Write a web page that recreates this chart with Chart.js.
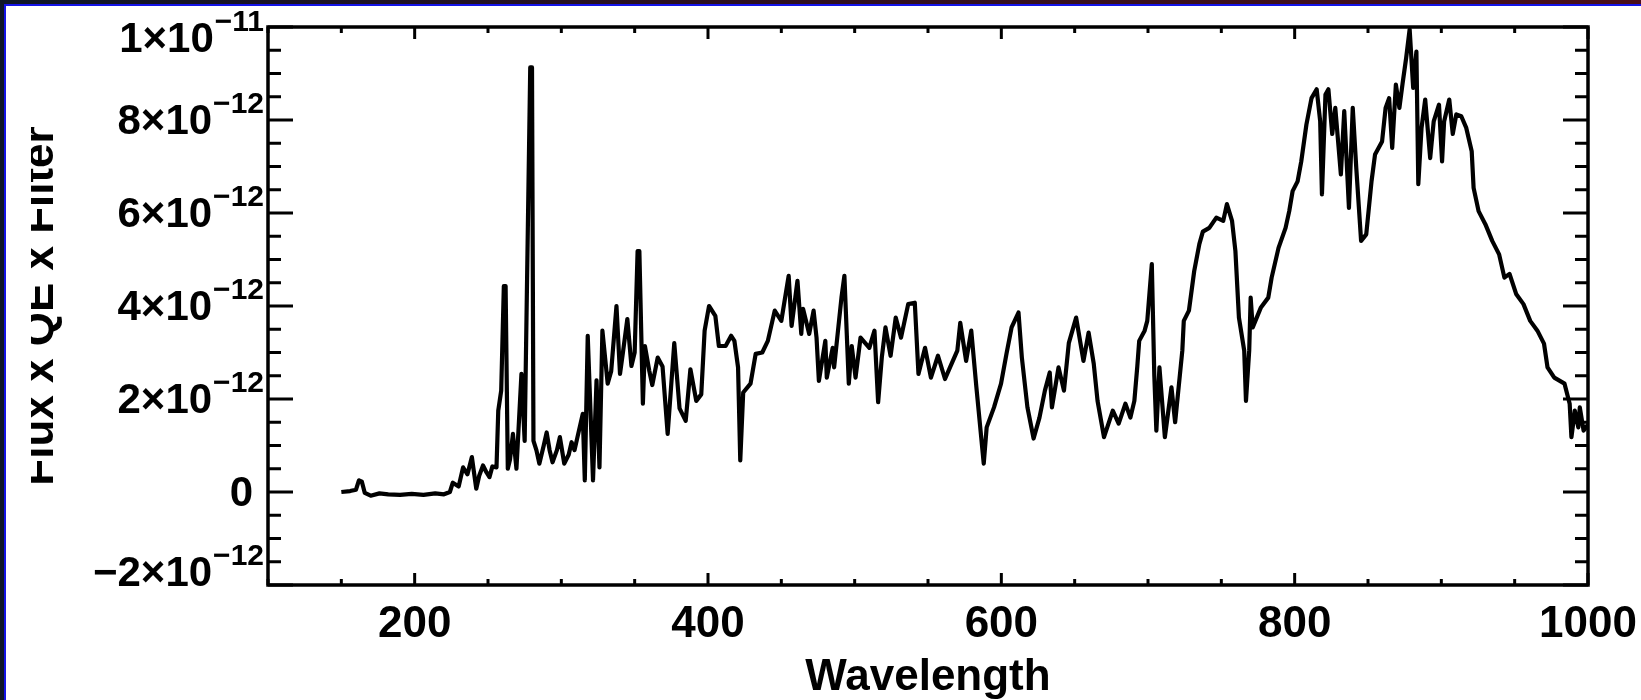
<!DOCTYPE html>
<html>
<head>
<meta charset="utf-8">
<script src="https://cdn.jsdelivr.net/npm/chart.js@4/dist/chart.umd.min.js"></script>
<style>
    html, body { margin: 0; padding: 0; background: #fff; }
    body { width: 1641px; height: 700px; position: relative; overflow: hidden; }
    .strip { position: absolute; z-index: 3; }
    #topDark { left: 0; top: 0; width: 1641px; height: 4px; background: linear-gradient(to right, #0e1727, #2a1020 40%, #4a0f1a); }
    #topBlue { left: 4px; top: 4px; width: 1637px; height: 2px; background: #1414e6; }
    #leftDark { left: 0; top: 0; width: 4px; height: 700px; background: #0e1727; }
    #leftBlue { left: 4px; top: 4px; width: 2px; height: 696px; background: #1414e6; }
    #chart { position: absolute; left: 0; top: 0; z-index: 1; }
    #crop { position: absolute; left: 6px; top: 6px; width: 25px; height: 694px; background: #fff; z-index: 2; }
</style>
</head>
<body>
<div class="strip" id="topDark"></div>
<div class="strip" id="topBlue"></div>
<div class="strip" id="leftDark"></div>
<div class="strip" id="leftBlue"></div>
<canvas id="chart" width="1641" height="700"></canvas>
<div id="crop"></div>
<script>
const wavelengths = [
    150, 156, 160, 162, 164, 166, 170, 176, 182, 190, 198, 206, 214, 220, 224, 226, 230, 233, 236, 239,
    242, 244, 246.6, 249, 251, 253, 255.8, 257, 259, 260.8, 262, 263.5, 265, 267, 269.4, 272.8, 275, 278.8, 280, 281,
    283, 285, 288, 290, 292, 294, 297, 299, 302, 305, 307, 309, 311, 314.6, 316, 318, 321.6, 324, 326, 328,
    331.6, 334, 337.6, 340, 342, 345, 347.8, 350, 352, 353.2, 355.6, 357, 360, 362, 365.7, 369, 372.5, 377, 380.6, 384.8,
    388, 392, 395.4, 397.7, 400.7, 405, 407.4, 412, 415.8, 418, 420.5, 422, 424, 429, 432.5, 437, 440.8, 445.5, 450, 455,
    457, 461, 463.6, 464.8, 469, 472, 474, 475.6, 480, 481, 485, 486, 491, 493, 496, 498, 500.6, 504, 510, 513.5,
    516, 518.5, 521, 524.5, 528, 531.6, 536.5, 541, 543.5, 548, 552, 556.8, 561.6, 565, 570, 572, 576, 579.5, 583, 588,
    590, 595, 599.8, 603.5, 607, 611.7, 614, 617.8, 622, 626, 629.7, 633, 634.5, 639, 642.7, 646, 651, 656, 659.5, 663,
    665.6, 670, 676, 680, 684.6, 688, 690.7, 692.7, 694, 697.7, 699.5, 702.6, 704.3, 705.7, 707.8, 711.5, 716, 718.5, 723.4, 724.4,
    727.9, 731.5, 735, 737.4, 741.8, 746.6, 751.3, 753.8, 757.3, 759.6, 762, 765.6, 766.8, 769, 770, 771.4, 777, 782, 784.3, 789,
    793.8, 796.3, 798.6, 802, 804.5, 808, 811.5, 815, 817.4, 818.6, 821, 823, 825.6, 827.7, 831.5, 833.8, 837, 839.6, 842, 845.3,
    848.8, 852.4, 854.8, 859.6, 862, 864.4, 866.5, 869, 871.4, 873.6, 876, 878.4, 880.8, 883, 884.3, 886.5, 889, 892.4, 894.8, 898.4,
    900.5, 901.9, 905.4, 907.8, 910.2, 913.6, 917, 920.7, 922, 925.4, 930, 934.7, 939.4, 943, 946.5, 951, 956, 960.6, 965.5, 970,
    972.4, 977, 984, 987.5, 988.7, 991, 993.4, 994.4, 997, 1000
];

// flux in units of 1e-12
const fluxE12 = [
    0, 0.02, 0.05, 0.25, 0.22, -0.02, -0.08, -0.03, -0.05, -0.06, -0.04, -0.06, -0.03, -0.05, 0.0, 0.2, 0.12, 0.53, 0.38, 0.75,
    0.07, 0.35, 0.57, 0.42, 0.32, 0.55, 0.53, 1.75, 2.18, 4.43, 4.43, 0.5, 0.7, 1.25, 0.5, 2.54, 1.1, 9.13, 9.13, 1.1,
    0.9, 0.61, 1.0, 1.28, 0.9, 0.64, 0.9, 1.18, 0.61, 0.8, 1.07, 0.9, 1.18, 1.68, 0.25, 3.36, 0.25, 2.4, 0.53, 3.47,
    2.33, 2.6, 4.0, 2.54, 3.0, 3.72, 2.71, 3.0, 5.18, 5.18, 1.9, 3.14, 2.6, 2.3, 2.89, 2.7, 1.25, 3.2, 1.8, 1.53,
    2.64, 1.96, 2.1, 3.47, 4.0, 3.79, 3.14, 3.14, 3.36, 3.25, 2.68, 0.68, 2.14, 2.33, 2.97, 3.0, 3.25, 3.9, 3.68, 4.65,
    3.57, 4.54, 3.4, 3.94, 3.4, 3.9, 3.32, 2.39, 3.25, 2.46, 3.1, 2.68, 4.18, 4.65, 2.33, 3.14, 2.46, 3.32, 3.1, 3.47,
    1.93, 2.89, 3.54, 2.93, 3.75, 3.32, 4.04, 4.07, 2.54, 3.1, 2.46, 2.93, 2.43, 2.68, 3.04, 3.64, 2.82, 3.47, 2.25, 0.61,
    1.39, 1.82, 2.33, 2.97, 3.54, 3.86, 2.89, 1.82, 1.15, 1.6, 2.18, 2.57, 1.82, 2.68, 2.18, 3.2, 3.75, 2.82, 3.43, 2.76,
    1.96, 1.18, 1.75, 1.47, 1.9, 1.6, 1.96, 2.7, 3.25, 3.47, 3.68, 4.9, 2.5, 1.32, 2.68, 1.18, 2.25, 1.5, 3.04, 3.68,
    3.9, 4.75, 5.33, 5.6, 5.68, 5.9, 5.83, 6.19, 5.83, 5.18, 3.75, 3.04, 1.96, 3.04, 4.18, 3.54, 3.97, 4.18, 4.61, 5.25,
    5.68, 6.04, 6.47, 6.68, 7.11, 7.9, 8.47, 8.66, 7.97, 6.4, 8.55, 8.66, 7.7, 8.26, 6.83, 8.19, 6.11, 8.26, 6.97, 5.4,
    5.54, 6.68, 7.26, 7.54, 8.26, 8.47, 7.4, 8.76, 8.26, 8.79, 9.33, 9.95, 8.69, 9.47, 6.62, 7.83, 8.44, 7.18, 7.97, 8.33,
    7.11, 7.97, 8.44, 7.7, 8.12, 8.08, 7.83, 7.33, 6.54, 6.04, 5.76, 5.4, 5.11, 4.61, 4.69, 4.26, 4.04, 3.68, 3.47, 3.19,
    2.68, 2.46, 2.33, 1.9, 1.18, 1.75, 1.39, 1.82, 1.32, 1.45
];

const xTickValues = [200, 400, 600, 800, 1000];
const xTickLabels = ['200', '400', '600', '800', '1000'];
const yTickValues = [-2e-12, 0, 2e-12, 4e-12, 6e-12, 8e-12, 1e-11];
const yTickMantissas = ['\u22122\u00d710', '0', '2\u00d710', '4\u00d710', '6\u00d710', '8\u00d710', '1\u00d710'];
const yTickExponents = ['\u221212', '', '\u221212', '\u221212', '\u221212', '\u221212', '\u221211'];

const FONT = '"Liberation Sans", Arial, Helvetica, sans-serif';

const idlFrame = {
    id: 'idlFrame',
    afterDraw(chart) {
        const ctx = chart.ctx;
        const area = chart.chartArea;
        const xs = chart.scales.x;
        const ys = chart.scales.y;
        ctx.save();
        ctx.strokeStyle = '#000';
        ctx.lineWidth = 3.5;
        ctx.lineCap = 'butt';
        ctx.strokeRect(area.left, area.top, area.right - area.left, area.bottom - area.top);

        ctx.lineWidth = 3;
        ctx.beginPath();
        for (let v = 100; v <= 1000; v += 50) {
            const px = xs.getPixelForValue(v);
            const len = v % 200 === 0 ? 12 : 6;
            ctx.moveTo(px, area.bottom);
            ctx.lineTo(px, area.bottom - len);
            ctx.moveTo(px, area.top);
            ctx.lineTo(px, area.top + len);
        }
        for (let k = -4; k <= 20; k++) {
            const py = ys.getPixelForValue(k * 0.5e-12);
            const len = k % 4 === 0 ? 25 : 13;
            ctx.moveTo(area.left, py);
            ctx.lineTo(area.left + len, py);
            ctx.moveTo(area.right, py);
            ctx.lineTo(area.right - len, py);
        }
        ctx.stroke();

        ctx.fillStyle = '#000';
        ctx.textAlign = 'right';
        yTickValues.forEach((v, i) => {
            const py = ys.getPixelForValue(v);
            const cy = Math.min(Math.max(py + 2, 40), 574);
            const right = area.left - 4;
            if (!yTickExponents[i]) {
                ctx.font = 'bold 42px ' + FONT;
                ctx.textBaseline = 'middle';
                ctx.fillText(yTickMantissas[i], right - 11, cy);
                return;
            }
            ctx.font = 'bold 30px ' + FONT;
            ctx.textBaseline = 'alphabetic';
            ctx.fillText(yTickExponents[i], right, cy - 9);
            const supWidth = ctx.measureText(yTickExponents[i]).width;
            ctx.font = 'bold 42px ' + FONT;
            ctx.textBaseline = 'middle';
            ctx.fillText(yTickMantissas[i], right - supWidth - 1, cy);
        });
        ctx.restore();
    }
};

const ctx = document.getElementById('chart').getContext('2d');
new Chart(ctx, {
    type: 'line',
    data: {
        datasets: [{
            data: wavelengths.map((w, i) => ({ x: w, y: fluxE12[i] * 1e-12 })),
            borderColor: '#000',
            borderWidth: 4.2,
            borderJoinStyle: 'round',
            pointRadius: 0,
            tension: 0,
            fill: false
        }]
    },
    options: {
        responsive: false,
        animation: false,
        devicePixelRatio: 1,
        layout: { padding: { left: 0, top: 27, right: 53, bottom: 0 } },
        plugins: {
            legend: { display: false },
            tooltip: { enabled: false }
        },
        scales: {
            x: {
                type: 'linear',
                min: 100,
                max: 1000,
                afterBuildTicks: (scale) => { scale.ticks = xTickValues.map(v => ({ value: v })); },
                afterFit: (scale) => {
                    scale.height = 115;
                    scale.paddingLeft = 0;
                    scale.paddingRight = 0;
                },
                grid: { display: false, drawTicks: false },
                border: { display: false },
                ticks: {
                    color: '#000',
                    padding: 13,
                    maxRotation: 0,
                    autoSkip: false,
                    callback: (value) => xTickLabels[xTickValues.indexOf(value)],
                    font: { family: FONT, size: 44, weight: 'bold' }
                },
                title: {
                    display: true,
                    text: 'Wavelength',
                    color: '#000',
                    padding: { top: 0, bottom: 1 },
                    font: { family: FONT, size: 44, weight: 'bold', lineHeight: 0.95 }
                }
            },
            y: {
                type: 'linear',
                min: -2e-12,
                max: 1e-11,
                afterBuildTicks: (scale) => { scale.ticks = yTickValues.map(v => ({ value: v })); },
                afterFit: (scale) => { scale.width = 268; },
                grid: { display: false, drawTicks: false },
                border: { display: false },
                ticks: { display: false },
                title: {
                    display: true,
                    text: 'Flux x QE x Filter',
                    color: '#000',
                    padding: { top: 14, bottom: 0 },
                    font: { family: FONT, size: 44, weight: 'bold' }
                }
            }
        }
    },
    plugins: [idlFrame]
});
</script>
</body>
</html>
